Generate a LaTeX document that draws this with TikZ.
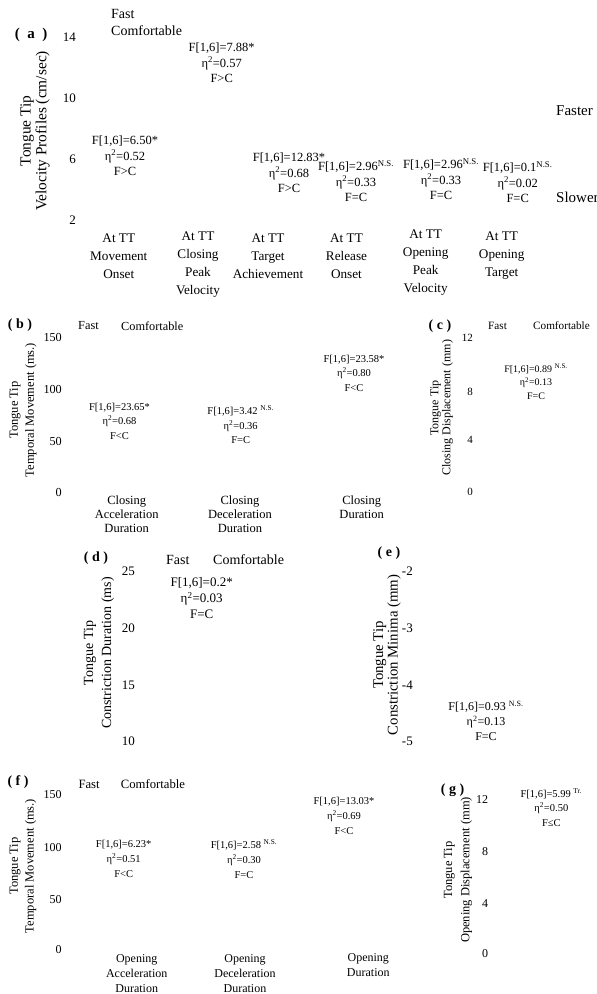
\documentclass[tikz,border=0pt]{standalone}
\usepackage{fontspec}
\setmainfont{Liberation Serif}
\newcommand{\sz}[2]{\fontsize{#1}{#2}\selectfont}
\newcommand{\fstat}[1]{F[1,6]=#1}
\newcommand{\etasq}[1]{η\textsuperscript{2}=#1}
\newcommand{\ns}{\textsuperscript{N.S.}}
\tikzset{
  plab/.style={font=\bfseries\sz{14}{16},inner sep=0pt},
  ticklab/.style={anchor=east,inner sep=0pt,font=\sz{#1}{#1}},
  keylab/.style={anchor=west,inner sep=0pt,font=\sz{#1}{#1}},
  ytitle/.style 2 args={rotate=90,align=center,inner sep=0pt,font=\sz{#1}{#2}},
  stat/.style 2 args={align=center,inner sep=0pt,font=\sz{#1}{#2}},
  cat/.style 2 args={align=center,inner sep=0pt,font=\sz{#1}{#2}}
}
\begin{document}
\begin{tikzpicture}[x=1pt,y=-1pt]
  \useasboundingbox (0,0) rectangle (597,994);
  % (a)
  \node[plab,font=\bfseries\sz{15}{16}] (pa) at (31,35) {(\enspace a\enspace)};
  \node[keylab=14] (fa) at (111,14) {Fast};
  \node[keylab=14] (ca) at (111,31) {Comfortable};
  \node[keylab=15] (up) at (556,111) {Faster};
  \node[keylab=15] (dn) at (556,197) {Slower};
  \node[ytitle={15.4}{15.7}] (ya) at (35,131) {Tongue Tip\\Velocity Profiles (cm/sec)};
  \foreach \v/\ty [count=\i] in {14/37,10/98,6/159,2/220}
    \node[ticklab=13] (ta\i) at (76,\ty) {\v};
  \foreach \sx/\sy/\fv/\ev/\rel [count=\i] in {
      125/156/{6.50*}/0.52/F>C, 221.7/63/{7.88*}/0.57/F>C,
      289/173/{12.83*}/0.68/F>C, 356/181/{2.96\ns}/0.33/F=C,
      441/179/{2.96\ns}/0.33/F=C, 517.7/182/{0.1\ns}/0.02/F=C}
    \node[stat={12.5}{15.5}] (sa\i) at (\sx,\sy) {\fstat{\fv}\\\etasq{\ev}\\\rel};
  \foreach \cx/\cy/\ct [count=\i] in {
      118.8/256/{At TT\\Movement\\Onset}, 198/264.5/{At TT\\Closing\\Peak\\Velocity},
      268/256/{At TT\\Target\\Achievement}, 346.5/256/{At TT\\Release\\Onset},
      425.7/262.5/{At TT\\Opening\\Peak\\Velocity}, 501.7/256/{At TT\\Opening\\Target}}
    \node[cat={13.2}{18}] (ka\i) at (\cx,\cy) {\ct};
  % (b)
  \node[plab] (pb) at (20,325) {( b )};
  \node[keylab=12.3] (fb) at (78,326) {Fast};
  \node[keylab=12.3] (cb) at (121,326) {Comfortable};
  \node[ytitle={12.5}{16}] (yb) at (23,410) {Tongue Tip\\Temporal Movement (ms.)};
  \foreach \v/\ty [count=\i] in {150/337,100/389,50/441,0/492}
    \node[ticklab=12.2] (tb\i) at (62,\ty) {\v};
  \foreach \sx/\sy/\fv/\ev/\rel [count=\i] in {
      119.5/421/{23.65*}/0.68/F<C, 240.7/425/{3.42 \ns}/0.36/F=C,
      354/373/{23.58*}/0.80/F<C}
    \node[stat={10.5}{14.5}] (sb\i) at (\sx,\sy) {\fstat{\fv}\\\etasq{\ev}\\\rel};
  \foreach \cx/\cy/\ct [count=\i] in {
      126.7/514/{Closing\\Acceleration\\Duration}, 240/514/{Closing\\Deceleration\\Duration},
      361.7/507/{Closing\\Duration}}
    \node[cat={12.5}{14}] (kb\i) at (\cx,\cy) {\ct};
  % (c)
  \node[plab] (pc) at (440,326) {( c )};
  \node[keylab=11.2] (fc) at (488,326) {Fast};
  \node[keylab=11.2] (cc) at (533,326) {Comfortable};
  \node[ytitle={12}{12}] (yc) at (441.7,408) {Tongue Tip\\Closing Displacement (mm)};
  \foreach \v/\ty [count=\i] in {12/338,8/391.7,4/440,0/491.7}
    \node[ticklab=11] (tc\i) at (473,\ty) {\v};
  \node[stat={10}{13.5}] (sc1) at (536,381.7) {\fstat{0.89 \ns}\\\etasq{0.13}\\F=C};
  % (d)
  \node[plab] (pd) at (96,558) {( d )};
  \node[keylab=14] (fd) at (166,560) {Fast};
  \node[keylab=14] (cd) at (213,560) {Comfortable};
  \node[ytitle={14}{18}] (yd) at (99,653) {Tongue Tip\\Constriction Duration (ms)};
  \foreach \v/\ty [count=\i] in {25/571.7,20/628,15/685,10/741.7}
    \node[ticklab=13] (td\i) at (135,\ty) {\v};
  \node[stat={13}{16}] (sd1) at (201.7,598) {\fstat{0.2*}\\\etasq{0.03}\\F=C};
  % (e)
  \node[plab] (pe) at (389,553) {( e )};
  \node[ytitle={14.8}{12.6}] (ye) at (387,655) {Tongue Tip\\Constriction Minima (mm)};
  \foreach \v/\ty [count=\i] in {-2/570.7,-3/628,-4/685,-5/741.7}
    \node[ticklab=13] (te\i) at (413,\ty) {\v};
  \node[stat={12}{15}] (se1) at (486,720.7) {\fstat{0.93 \ns}\\\etasq{0.13}\\F=C};
  % (f)
  \node[plab] (pf) at (18,781.7) {( f )};
  \node[keylab=12.7] (ff) at (78.3,784) {Fast};
  \node[keylab=12.7] (cf) at (120.7,784) {Comfortable};
  \node[ytitle={12.5}{15.7}] (yf) at (23,866) {Tongue Tip\\Temporal Movement (ms.)};
  \foreach \v/\ty [count=\i] in {150/795,100/847.3,50/899.3,0/950}
    \node[ticklab=12] (tf\i) at (61.7,\ty) {\v};
  \foreach \sx/\sy/\fv/\ev/\rel [count=\i] in {
      123.7/859/{6.23*}/0.51/F<C, 244/859/{2.58 \ns}/0.30/F=C,
      344/816/{13.03*}/0.69/F<C}
    \node[stat={10.5}{14.7}] (sf\i) at (\sx,\sy) {\fstat{\fv}\\\etasq{\ev}\\\rel};
  \foreach \cx/\cy/\ct [count=\i] in {
      136.7/973.3/{Opening\\Acceleration\\Duration}, 245/973.3/{Opening\\Deceleration\\Duration},
      368.3/965.5/{Opening\\Duration}}
    \node[cat={12}{15}] (kf\i) at (\cx,\cy) {\ct};
  % (g)
  \node[plab] (pg) at (452.5,790) {( g )};
  \node[ytitle={12.5}{17.4}] (yg) at (458,870) {Tongue Tip\\Opening Displacement (mm)};
  \foreach \v/\ty [count=\i] in {12/800,8/851.7,4/903.3,0/953.3}
    \node[ticklab=12] (tg\i) at (488.3,\ty) {\v};
  \node[stat={10.5}{14.5}] (sg1) at (551.3,807.3) {\fstat{5.99 \textsuperscript{Tr.}}\\\etasq{0.50}\\F≤C};
\end{tikzpicture}
\end{document}
